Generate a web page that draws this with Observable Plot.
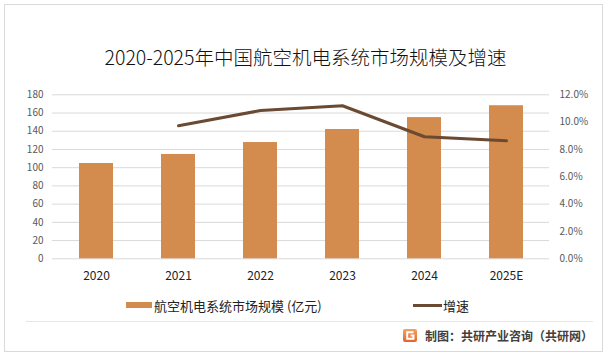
<!DOCTYPE html>
<html>
<head>
<meta charset="utf-8">
<script src="https://cdn.jsdelivr.net/npm/d3@7"></script>
<script src="https://cdn.jsdelivr.net/npm/@observablehq/plot@0.6"></script>
<style>
  html, body { margin: 0; padding: 0; background: #fff; }
  body { width: 611px; height: 359px; position: relative; overflow: hidden;
         font-family: "Noto Sans CJK SC", "Noto Sans", sans-serif; }
  #frame { position: absolute; left: 4px; top: 4px; width: 599px; height: 348px;
           border: 1px solid #d9d9d9; box-sizing: border-box; }
  #title { position: absolute; left: 0; width: 611px; top: 42px; text-align: center;
           font-size: 19.5px; line-height: 30px; color: #111; font-weight: 300; }
  #chart { position: absolute; left: 0; top: 80px; }
  #legend { position: absolute; top: 296px; left: 0; width: 611px; height: 18px;
            font-size: 13px; color: #222; }
  .lg { position: absolute; top: 0; display: flex; align-items: center; height: 18px; white-space: pre; }
  .sw-bar { width: 26px; height: 6px; background: #D38B4E; margin-right: 2px; }
  .sw-line { width: 29px; height: 3px; background: #6A4A33; margin-right: 1px; }
  #sep { position: absolute; left: 26px; width: 567px; top: 321px; height: 1px; background: #e6e6e6; }
  #credit { position: absolute; right: 18px; top: 327px; display: flex; align-items: center;
            font-size: 12px; font-weight: bold; color: #404040; white-space: nowrap; }
  #credit svg { margin-right: 8px; }
</style>
</head>
<body>
<div id="frame"></div>
<div id="title">2020-2025年中国航空机电系统市场规模及增速</div>
<div id="chart"></div>
<div id="legend">
  <div class="lg" style="left:126px"><span class="sw-bar"></span>航空机电系统市场规模 (亿元)</div>
  <div class="lg" style="left:413px"><span class="sw-line"></span>增速</div>
</div>
<div id="sep"></div>
<div id="credit">
  <svg width="14" height="13" viewBox="0 0 14 13">
    <defs><linearGradient id="lg1" x1="0" y1="0" x2="0" y2="1">
      <stop offset="0" stop-color="#F5A35B"/><stop offset="1" stop-color="#E8622C"/></linearGradient></defs>
    <rect x="0" y="0" width="14" height="13" rx="2" fill="url(#lg1)"/>
    <path d="M10.5 3.2H4.2V9.8H10.5V6.6H7.6" fill="none" stroke="#fff" stroke-width="2"/>
  </svg>
  制图：共研产业咨询（共研网）
</div>
<script>
const years = ["2020", "2021", "2022", "2023", "2024", "2025E"];
const marketSize = [104.6, 114.5, 127.6, 141.9, 155.0, 168.0];
const growthRate = [null, 9.73, 10.85, 11.2, 8.93, 8.63];
const leftTicks = [0, 20, 40, 60, 80, 100, 120, 140, 160, 180];
const rightTicks = [0, 2, 4, 6, 8, 10, 12];

const k = 180 / 12; // percent -> left-axis units
const bars = years.map((y, i) => ({year: y, value: marketSize[i]}));
const line = years.map((y, i) => ({year: y, rate: growthRate[i]})).filter(d => d.rate != null);

const chart = Plot.plot({
  width: 611,
  height: 210,
  marginLeft: 52,
  marginRight: 62,
  marginTop: 14.3,
  marginBottom: 31.7,
  style: {fontFamily: "'Noto Sans CJK SC', 'Noto Sans', sans-serif", background: "transparent"},
  x: {domain: years, paddingInner: 0.59, paddingOuter: 0.295, label: null},
  y: {domain: [0, 180], label: null},
  marks: [
    Plot.gridY(leftTicks, {stroke: "#d9d9d9", strokeOpacity: 1, strokeWidth: 1}),
    Plot.barY(bars, {x: "year", y: "value", fill: "#D38B4E"}),
    Plot.line(line, {x: "year", y: d => d.rate * k, stroke: "#6A4A33", strokeWidth: 3, curve: "linear"}),
    Plot.axisY(leftTicks, {anchor: "left", tickSize: 0, tickPadding: 9, fontSize: 10, fill: "#595959", label: null}),
    Plot.axisY(rightTicks.map(t => t * k), {anchor: "right", tickSize: 0, tickPadding: 10, fontSize: 10, fill: "#595959", label: null,
      tickFormat: d => (d / k).toFixed(1) + "%"}),
    Plot.axisX({tickSize: 0, tickPadding: 13, fontSize: 12, fill: "#222", label: null})
  ]
});
document.getElementById("chart").appendChild(chart);
</script>
</body>
</html>
